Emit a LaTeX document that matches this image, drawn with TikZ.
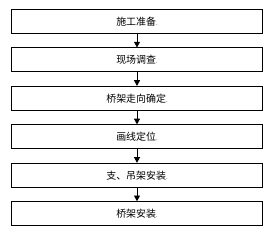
\documentclass[tikz,border=0pt]{standalone}
\usepackage{fontspec}
\setmainfont{Noto Sans CJK SC}
\usetikzlibrary{positioning, arrows.meta}

\begin{document}
\begin{tikzpicture}[node distance=0.405cm, every node/.style={font=\fontsize{8.5}{10}\selectfont},
        procbox/.style={draw, rectangle, line width=0.8pt, minimum width=7.53cm, minimum height=0.72cm, inner sep=0pt, align=center},
        flow/.style={-{Triangle[length=0.17cm, width=0.18cm]}, line width=0.7pt}]
        \useasboundingbox (0,0) rectangle (8.07,-6.87);

        \node[procbox] (prep) at (4.11,-0.645) {施工准备{\tiny .}};
        \node[procbox, below=of prep] (survey) {现场调查{\tiny .}};
        \node[procbox, below=of survey] (route) {桥架走向确定{\tiny .}};
        \node[procbox, below=of route] (mark) {画线定位{\tiny .}};
        \node[procbox, below=of mark] (hanger) {支、吊架安装{\tiny .}};
        \node[procbox, below=of hanger] (tray) {桥架安装{\tiny .}};

        \draw[flow] (prep.south) -- (survey.north);
        \draw[flow] (survey.south) -- (route.north);
        \draw[flow] (route.south) -- (mark.north);
        \draw[flow] (mark.south) -- (hanger.north);
        \draw[flow] (hanger.south) -- (tray.north);
    \end{tikzpicture}
\end{document}
